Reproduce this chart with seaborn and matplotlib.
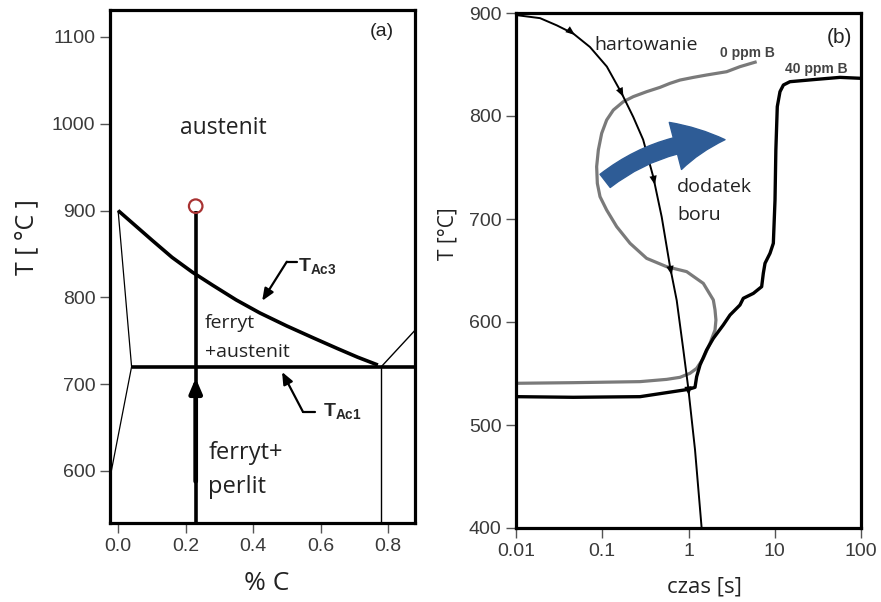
import numpy as np
import pandas as pd
import matplotlib
matplotlib.use("Agg")
import matplotlib.pyplot as plt
from matplotlib.patches import FancyArrowPatch
import seaborn as sns

# ---------------- panel (a): Fe-C diagram ----------------
ac3_c = [0.0, 0.05, 0.1, 0.16, 0.22, 0.28, 0.35, 0.42, 0.5, 0.58, 0.65, 0.71, 0.77]
ac3_t = [900, 883, 866, 846, 829, 814, 797, 782, 767, 753, 741, 731, 722]
alpha_c = [0.0, 0.04, -0.02]
alpha_t = [900, 720, 600]
ac1_c = [0.04, 0.88]
ac1_t = [720, 720]
eut_c = [0.78, 0.78]
eut_t = [540, 720]
acm_c = [0.78, 0.88]
acm_t = [720, 762]
steel_c = [0.23, 0.23]
steel_t = [540, 899]
start_c = [0.23]
start_t = [905]
a_xticks = [0.0, 0.2, 0.4, 0.6, 0.8]
a_xticklabels = ["0.0", "0.2", "0.4", "0.6", "0.8"]
a_yticks = [600, 700, 800, 900, 1000, 1100]

# ---------------- panel (b): cooling curves ----------------
quench_s = [0.01, 0.019, 0.0297, 0.0462, 0.072, 0.113, 0.168, 0.229, 0.298, 0.39,
            0.489, 0.61, 0.73, 0.871, 0.99, 1.19, 1.42]
quench_t = [898, 895, 888, 880, 867, 848, 822, 799, 777, 741,
            702, 654, 621, 573, 537, 476, 400]
quench_arrow_s = [0.046, 0.168, 0.39, 0.61, 0.97]

b0_s = [6.17, 3.95, 2.77, 1.62, 1.14, 0.797, 0.61, 0.467, 0.327, 0.229, 0.1755, 0.1345,
        0.1125, 0.0985, 0.0901, 0.0861, 0.0877, 0.0942, 0.1125, 0.147, 0.21, 0.327,
        0.558, 0.952, 1.485, 1.94, 2.03, 2.08, 2.03, 1.775, 1.485, 1.243, 1.04,
        0.797, 0.558, 0.274, 0.0462, 0.0102]
b0_t = [852.7, 847.9, 843.0, 839.8, 837.5, 834.9, 831.7, 827.8, 823.6, 818.8, 813.9, 805.8,
        796.1, 783.2, 767.0, 750.8, 734.6, 721.7, 708.7, 692.6, 676.4, 661.8,
        653.7, 648.9, 637.5, 621.4, 611.7, 601.9, 592.2, 579.3, 564.7, 555.0, 550.2,
        546.3, 544.3, 542.1, 541.1, 540.5]

b40_s = [99, 57.1, 30.6, 15.0, 12.6, 11.5, 10.7, 10.3, 10.07, 9.63, 8.81, 7.71, 7.37,
         7.05, 5.65, 4.32, 3.95, 3.03, 2.53, 1.94, 1.62, 1.36, 1.243, 1.19, 0.995,
         0.667, 0.274, 0.0462, 0.0102]
b40_t = [836.6, 837.5, 835.6, 833.3, 830.1, 823.6, 809.1, 767.0, 718.4, 676.4, 666.7,
         657.0, 647.3, 634.3, 627.8, 623.0, 616.5, 606.8, 597.1, 584.1, 572.8, 558.2,
         546.9, 536.6, 534.6, 532.4, 527.5, 526.9, 527.5]
b_xticks = [0.01, 0.1, 1, 10, 100]
b_xticklabels = ["0.01", "0.1", "1", "10", "100"]
b_yticks = [400, 500, 600, 700, 800, 900]

sns.set_theme(style="white")
plt.rcParams["font.family"] = ["Liberation Sans", "DejaVu Sans"]
plt.rcParams["mathtext.fontset"] = "custom"
plt.rcParams["mathtext.bf"] = "Liberation Sans:bold"
plt.rcParams["mathtext.rm"] = "Liberation Sans"

TXT = ["Open Sans", "DejaVu Sans"]
TICKC = "#3a3a3a"

fig = plt.figure(figsize=(8.81, 6.02), dpi=100)
axa = fig.add_axes([110 / 881, 1 - 523 / 602, 305 / 881, 513 / 602])
axb = fig.add_axes([516 / 881, 1 - 528 / 602, 345 / 881, 515 / 602])


def line(ax, x, y, lw, color="black"):
    sns.lineplot(x=x, y=y, ax=ax, sort=False, estimator=None, color=color,
                 linewidth=lw, solid_joinstyle="round", solid_capstyle="butt")


# ---- panel a ----
line(axa, alpha_c, alpha_t, 0.9)
line(axa, eut_c, eut_t, 1.0)
line(axa, acm_c, acm_t, 1.0)
line(axa, ac3_c, ac3_t, 2.6)
line(axa, ac1_c, ac1_t, 2.6)
line(axa, steel_c, steel_t, 2.6)
axa.annotate("", xy=(0.23, 707), xytext=(0.23, 588),
             arrowprops=dict(arrowstyle="-|>,head_length=0.7,head_width=0.3",
                             color="black", lw=3.4, shrinkA=0, shrinkB=0))
sns.scatterplot(x=start_c, y=start_t, ax=axa, marker="o", s=95,
                facecolors="none", edgecolors="#a83232", linewidths=1.6, zorder=5)

axa.set_xlim(-0.024, 0.88)
axa.set_ylim(540, 1131)
axa.set_xticks(a_xticks, a_xticklabels)
axa.set_yticks(a_yticks)

axa.text(0.311, 988, "austenit", family=TXT, fontsize=16.5, ha="center", va="baseline", color="#222")
axa.text(0.258, 765, "ferryt", family=TXT, fontsize=14, ha="left", va="baseline", color="#222")
axa.text(0.258, 731, "+austenit", family=TXT, fontsize=14, ha="left", va="baseline", color="#222")
axa.text(0.267, 614, "ferryt+", family=TXT, fontsize=17, ha="left", va="baseline", color="#222")
axa.text(0.267, 574, "perlit", family=TXT, fontsize=17, ha="left", va="baseline", color="#222")
axa.text(0.782, 1106, "(a)", fontsize=14, ha="center", va="center", color="#222")

axa.text(0.533, 829.5, r"$\mathbf{T}_{\mathbf{Ac3}}$", fontsize=14, ha="left", va="baseline")
axa.plot([0.53, 0.50], [841, 841], color="black", lw=1.6)
axa.annotate("", xy=(0.427, 796), xytext=(0.50, 841),
             arrowprops=dict(arrowstyle="-|>,head_length=0.6,head_width=0.25",
                             color="black", lw=1.6, shrinkA=0, shrinkB=0))
axa.text(0.607, 662, r"$\mathbf{T}_{\mathbf{Ac1}}$", fontsize=14, ha="left", va="baseline")
axa.plot([0.584, 0.548], [668, 668], color="black", lw=1.6)
axa.annotate("", xy=(0.486, 714), xytext=(0.548, 668),
             arrowprops=dict(arrowstyle="-|>,head_length=0.6,head_width=0.25",
                             color="black", lw=1.6, shrinkA=0, shrinkB=0))

# ---- panel b ----
axb.set_xscale("log")
line(axb, b0_s, b0_t, 2.3, color="#7a7a7a")
line(axb, b40_s, b40_t, 2.4)
line(axb, quench_s, quench_t, 1.4)

lq = np.log10(quench_s)
for s in quench_arrow_s:
    l0 = np.log10(s)
    t0 = np.interp(l0, lq, quench_t)
    l1 = l0 + 0.02
    t1 = np.interp(l1, lq, quench_t)
    axb.annotate("", xy=(10 ** l1, t1), xytext=(10 ** l0, t0),
                 arrowprops=dict(arrowstyle="-|>,head_length=0.55,head_width=0.22",
                                 color="black", lw=0.01, shrinkA=0, shrinkB=0))

blue = FancyArrowPatch(posA=(0.108, 737), posB=(2.65, 777),
                       arrowstyle="simple,head_length=36,head_width=35,tail_width=12",
                       connectionstyle="arc3,rad=-0.17", color="#2e5c96",
                       mutation_scale=1, shrinkA=0, shrinkB=0, zorder=6)
axb.add_patch(blue)

axb.set_xlim(0.01, 100)
axb.set_ylim(400, 900)
axb.set_xticks(b_xticks, b_xticklabels)
axb.set_yticks(b_yticks)
axb.minorticks_off()

axb.text(0.082, 864, "hartowanie", family=TXT, fontsize=14, ha="left", va="baseline", color="#222")
axb.text(0.736, 726, "dodatek", family=TXT, fontsize=14, ha="left", va="baseline", color="#222")
axb.text(0.736, 699, "boru", family=TXT, fontsize=14, ha="left", va="baseline", color="#222")
axb.text(2.32, 857, "0 ppm B", fontsize=10, fontweight="bold", ha="left", va="baseline", color="#444")
axb.text(13.1, 842, "40 ppm B", fontsize=10, fontweight="bold", ha="left", va="baseline", color="#444")
axb.text(55.6, 876, "(b)", fontsize=15, ha="center", va="center", color="#222")

for ax in (axa, axb):
    for sp in ax.spines.values():
        sp.set_visible(True)
        sp.set_color("black")
        sp.set_linewidth(2.3)
    ax.tick_params(axis="both", which="major", direction="out", length=7.5, width=1.0,
                   color="#555555", labelcolor=TICKC, labelsize=14, pad=3,
                   left=True, bottom=True, top=False, right=False)
    ax.set_xlabel("")
    ax.set_ylabel("")

fig.text(27 / 881, 1 - 237 / 602, "T [ °C ]", family=TXT, fontsize=18, rotation=90,
         ha="center", va="center", color="#222")
fig.text(448 / 881, 1 - 234 / 602, "T [°C]", family=TXT, fontsize=15, rotation=90,
         ha="center", va="center", color="#222")
fig.text(267 / 881, 1 - 584 / 602, "% C", family=TXT, fontsize=19, ha="center", va="center", color="#222")
fig.text(704 / 881, 1 - 587 / 602, "czas [s]", family=TXT, fontsize=16, ha="center", va="center", color="#222")

fig.savefig("out.png", dpi=100, facecolor="white")
